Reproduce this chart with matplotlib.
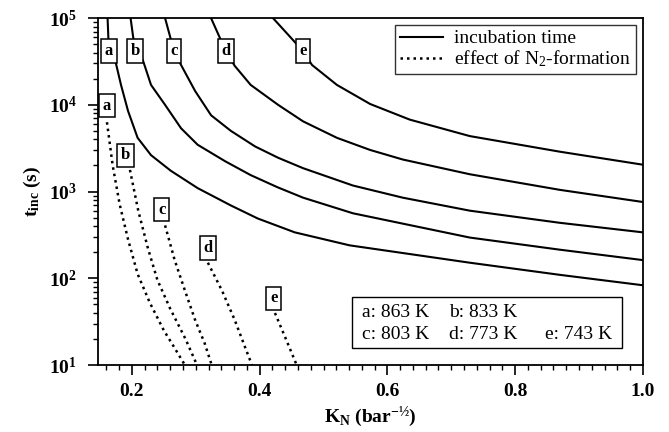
import matplotlib
matplotlib.use("Agg")
import matplotlib.pyplot as plt
import numpy as np
from matplotlib.ticker import LogLocator, MultipleLocator, NullFormatter
from matplotlib.patches import Rectangle

plt.rcParams['font.family'] = ['Liberation Serif', 'DejaVu Serif']
plt.rcParams['mathtext.default'] = 'regular'

# Solid curves: incubation time (K_N, log10 t)
inc_a_K = [0.162, 0.164, 0.175, 0.183, 0.194, 0.209, 0.230, 0.261, 0.303, 0.355, 0.397, 0.455, 0.541, 0.729, 0.870, 1.0]
inc_a_lt = [5.0, 4.62, 4.48, 4.23, 3.93, 3.62, 3.42, 3.24, 3.04, 2.84, 2.69, 2.53, 2.38, 2.18, 2.04, 1.92]
inc_b_K = [0.198, 0.205, 0.217, 0.230, 0.252, 0.277, 0.303, 0.346, 0.386, 0.428, 0.468, 0.546, 0.729, 0.870, 1.0]
inc_b_lt = [5.0, 4.62, 4.52, 4.23, 4.00, 3.73, 3.54, 3.35, 3.19, 3.05, 2.93, 2.75, 2.47, 2.33, 2.21]
inc_c_K = [0.252, 0.266, 0.277, 0.299, 0.324, 0.355, 0.393, 0.429, 0.468, 0.546, 0.624, 0.729, 0.870, 1.0]
inc_c_lt = [5.0, 4.62, 4.46, 4.16, 3.88, 3.70, 3.52, 3.39, 3.27, 3.07, 2.93, 2.78, 2.64, 2.53]
inc_d_K = [0.324, 0.347, 0.361, 0.386, 0.429, 0.468, 0.521, 0.573, 0.624, 0.729, 0.870, 1.0]
inc_d_lt = [5.0, 4.62, 4.45, 4.23, 4.00, 3.81, 3.62, 3.48, 3.37, 3.20, 3.02, 2.88]
inc_e_K = [0.421, 0.468, 0.482, 0.521, 0.573, 0.635, 0.729, 0.870, 1.0]
inc_e_lt = [5.0, 4.62, 4.46, 4.23, 4.01, 3.83, 3.64, 3.46, 3.31]

# Dotted curves: effect of N2-formation
n2_a_K = [0.161, 0.170, 0.181, 0.194, 0.209, 0.228, 0.250, 0.265, 0.283]
n2_a_lt = [3.80, 3.30, 2.85, 2.45, 2.05, 1.72, 1.40, 1.22, 1.0]
n2_b_K = [0.197, 0.210, 0.225, 0.240, 0.260, 0.284, 0.302]
n2_b_lt = [3.25, 2.78, 2.35, 1.98, 1.65, 1.30, 1.0]
n2_c_K = [0.252, 0.267, 0.283, 0.299, 0.314, 0.325]
n2_c_lt = [2.61, 2.21, 1.86, 1.52, 1.25, 1.0]
n2_d_K = [0.319, 0.341, 0.361, 0.377, 0.388]
n2_d_lt = [2.18, 1.86, 1.52, 1.21, 1.0]
n2_e_K = [0.424, 0.440, 0.458]
n2_e_lt = [1.60, 1.32, 1.0]

curve_letters = ['a', 'b', 'c', 'd', 'e']
inc_label_K = [0.164, 0.205, 0.266, 0.347, 0.468]
inc_label_lt = [4.62, 4.62, 4.62, 4.62, 4.62]
n2_label_K = [0.161, 0.190, 0.247, 0.319, 0.422]
n2_label_lt = [3.99, 3.42, 2.79, 2.35, 1.77]

temp_entries = ["a: 863 K", "b: 833 K", "c: 803 K", "d: 773 K", "e: 743 K"]

fig = plt.figure(figsize=(6.69, 4.32), dpi=100)
ax = fig.add_axes([0.1465, 0.155, 0.8145, 0.803])

inc = [(inc_a_K, inc_a_lt), (inc_b_K, inc_b_lt), (inc_c_K, inc_c_lt), (inc_d_K, inc_d_lt), (inc_e_K, inc_e_lt)]
n2 = [(n2_a_K, n2_a_lt), (n2_b_K, n2_b_lt), (n2_c_K, n2_c_lt), (n2_d_K, n2_d_lt), (n2_e_K, n2_e_lt)]

for i, (k, lt) in enumerate(inc):
    ax.plot(k, 10 ** np.array(lt), color='black', lw=1.5, solid_joinstyle='round',
            label='incubation time' if i == 0 else None)
for i, (k, lt) in enumerate(n2):
    ax.plot(k, 10 ** np.array(lt), color='black', lw=1.8, linestyle=(0, (1, 1.6)),
            label='effect of N$_2$-formation' if i == 0 else None)

box = dict(boxstyle='square,pad=0.22', fc='white', ec='black', lw=1.1)
for L, k, lt in zip(curve_letters, inc_label_K, inc_label_lt):
    ax.text(k, 10 ** lt, L, ha='center', va='center', fontsize=12, fontweight='bold', bbox=box, zorder=5)
for L, k, lt in zip(curve_letters, n2_label_K, n2_label_lt):
    ax.text(k, 10 ** lt, L, ha='center', va='center', fontsize=12, fontweight='bold', bbox=box, zorder=5)

ax.set_yscale('log')
ax.set_xlim(0.147, 1.0)
ax.set_ylim(10, 1e5)
ax.xaxis.set_major_locator(MultipleLocator(0.2))
ax.xaxis.set_minor_locator(MultipleLocator(0.02))
ax.yaxis.set_major_locator(LogLocator(base=10, numticks=10))
ax.yaxis.set_minor_locator(LogLocator(base=10, subs=np.arange(2, 10), numticks=10))
ax.yaxis.set_minor_formatter(NullFormatter())
ax.tick_params(axis='both', which='major', direction='out', length=7, width=1.2, labelsize=14)
ax.tick_params(axis='both', which='minor', direction='out', length=3.5, width=1.0)
ax.tick_params(axis='x', which='major', pad=6)
ax.tick_params(axis='y', which='major', pad=8)
for lab in ax.get_xticklabels() + ax.get_yticklabels():
    lab.set_fontweight('bold')
for s in ax.spines.values():
    s.set_linewidth(1.3)

ax.set_xlabel('K$_N$ (bar$^{-½}$)', fontsize=14, fontweight='bold', labelpad=3)
ax.set_ylabel('t$_{inc}$ (s)', fontsize=14, fontweight='bold', labelpad=4)

leg = ax.legend(loc='upper right', fontsize=14, frameon=True, fancybox=False,
                edgecolor='black', borderpad=0.25, handlelength=2.2, handletextpad=0.6,
                labelspacing=0.05, borderaxespad=0.35)
leg.get_frame().set_linewidth(1.0)

# temperature key box
ax.add_patch(Rectangle((0.466, 0.049), 0.495, 0.147, transform=ax.transAxes,
                       fc='white', ec='black', lw=1.0, zorder=6))
col_x = [0.4844, 0.644, 0.4844, 0.644, 0.820]
row_y = [0.152, 0.152, 0.088, 0.088, 0.088]
for t, cx, ry in zip(temp_entries, col_x, row_y):
    ax.text(cx, ry, t, transform=ax.transAxes, ha='left', va='center', fontsize=14, zorder=7)

fig.savefig('out.png', dpi=100)
